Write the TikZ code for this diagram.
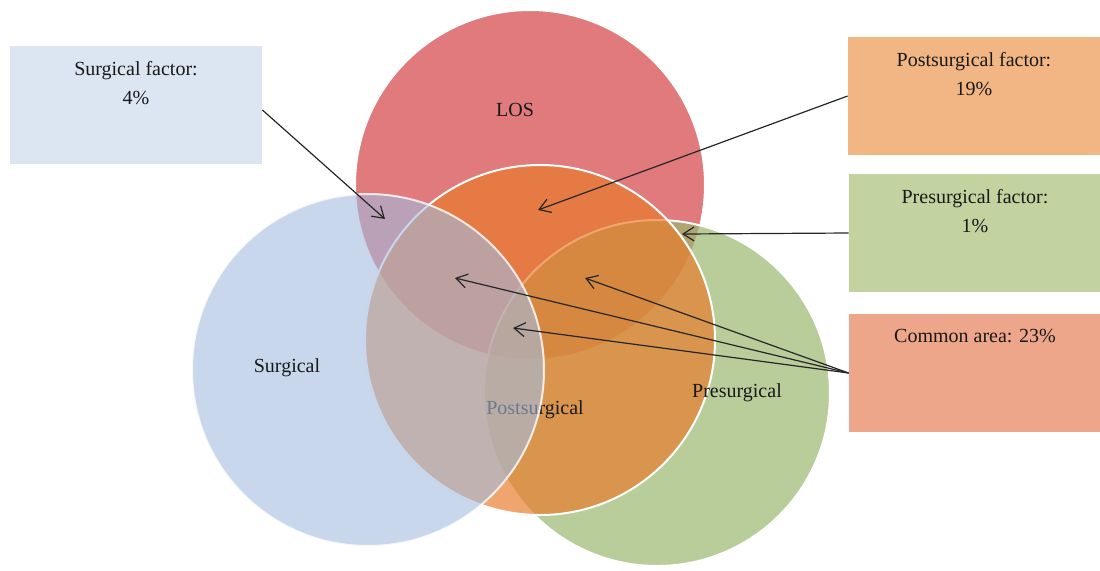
\documentclass[tikz,border=0pt]{standalone}
\usepackage{fontspec}
\setmainfont{Liberation Serif}
\usetikzlibrary{positioning,arrows.meta}
\definecolor{losred}{RGB}{224,122,125}
\definecolor{surgblue}{RGB}{163,188,222}
\definecolor{postorange}{RGB}{233,123,42}
\definecolor{pregreen}{RGB}{155,184,112}
\definecolor{surgfill}{RGB}{220,230,242}
\definecolor{postfill}{RGB}{242,182,132}
\definecolor{prefill}{RGB}{194,211,160}
\definecolor{commonfill}{RGB}{238,166,138}
\tikzset{
  venn/.style={circle, inner sep=0pt, draw=white, line width=1pt},
  factor/.style={rectangle, inner sep=0pt, minimum width=126pt, minimum height=59pt},
  boxtext/.style={inner sep=0pt, align=center, text=black!90, font=\fontsize{10}{14.5}\selectfont},
  setname/.style={inner sep=0pt, text=black!90, font=\fontsize{10}{12}\selectfont},
  pointer/.style={-{Straight Barb[length=5.5pt,width=7pt]}, line width=0.6pt, draw=black!85}
}
\begin{document}
\begin{tikzpicture}[x=0.5pt,y=-0.5pt]
    \useasboundingbox (0,0) rectangle (1100,570);

    % the four sets
    \node[venn, fill=losred, minimum size=175pt] (los) at (530,185) {};
    \node[venn, fill=pregreen, fill opacity=0.7, minimum size=173pt] (pre) at (657,393) {};
    \node[venn, fill=postorange, fill opacity=0.68, minimum size=175pt] (post) at (540,340) {};
    \node[setname] (postname) at (535,410) {Postsurgical};
    \node[venn, fill=surgblue, fill opacity=0.6, draw opacity=0.8, minimum size=176pt] (surg) at (368,370) {};

    \node[setname] (losname) at (515,110) {LOS};
    \node[setname] (surgname) at (287,368) {Surgical};
    \node[setname] (prename) at (737,393) {Presurgical};

    % factor boxes
    \node[factor, fill=surgfill] (surgbox) at (136,105) {};
    \node[boxtext, below=7.5pt of surgbox.north] (surgtext) {Surgical factor:\\4\%};
    \node[factor, fill=postfill] (postbox) at (974,96) {};
    \node[boxtext, below=7.5pt of postbox.north] (posttext) {Postsurgical factor:\\19\%};
    \node[factor, fill=prefill] (prebox) at (975,233) {};
    \node[boxtext, below=7.5pt of prebox.north] (pretext) {Presurgical factor:\\1\%};
    \node[factor, fill=commonfill] (commonbox) at (975,373) {};
    \node[boxtext, below=7.5pt of commonbox.north] (commontext) {Common area: 23\%};

    % where the arrows point
    \coordinate (surgtip) at (385,219);
    \coordinate (posttip) at (538,210);
    \coordinate (pretip) at (682,234);
    \coordinate (commontipa) at (455,278);
    \coordinate (commontipb) at (585,278);
    \coordinate (commontipc) at (513,328);

    \draw[pointer] ([yshift=-2.5pt]surgbox.east) -- (surgtip);
    \draw[pointer] (postbox.west) -- (posttip);
    \draw[pointer] (prebox.west) -- (pretip);
    \draw[pointer] (commonbox.west) -- (commontipa);
    \draw[pointer] (commonbox.west) -- (commontipb);
    \draw[pointer] (commonbox.west) -- (commontipc);
\end{tikzpicture}
\end{document}
